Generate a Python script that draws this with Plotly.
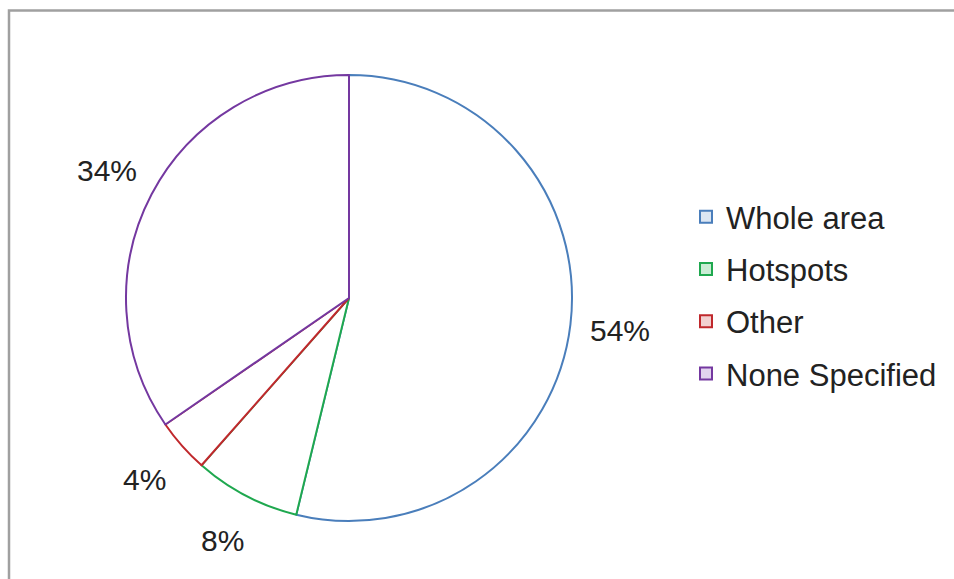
import math
import plotly.graph_objects as go

categories = ["Whole area", "Hotspots", "Other", "None Specified"]
values = [53.8, 7.7, 3.9, 34.6]
pct_labels = ["54%", "8%", "4%", "34%"]
colors = ["#4a7ebb", "#1fa84f", "#c0282c", "#7438a0"]
fills = ["#dce6f2", "#c9ecd4", "#f2d0d0", "#e2d3ee"]

W, H = 954, 579
cx, cy, R = 349, 298, 223  # pixel center and radius

fig = go.Figure()
fig.add_trace(go.Pie(
    labels=categories, values=values, sort=False, direction="clockwise", rotation=0,
    marker=dict(colors=["white"] * 4, line=dict(color=colors, width=2)),
    textinfo="none", showlegend=False, hoverinfo="label+percent",
    domain=dict(x=[(cx - R) / W, (cx + R) / W], y=[(H - cy - R) / H, (H - cy + R) / H]),
))

# legend entries
for c, col, fc in zip(categories, colors, fills):
    fig.add_trace(go.Scatter(
        x=[None], y=[None], mode="markers", name=c, legendgroup=c,
        marker=dict(symbol="square", size=12, color=fc, line=dict(color=col, width=2)),
    ))

# percent labels
total = sum(values)
cum = 0
ann = []
for v, t in zip(values, pct_labels):
    mid = (cum + v / 2) / total * 2 * math.pi
    cum += v
    r = 1.225 * R
    px = cx + r * math.sin(mid)
    py = cy - r * math.cos(mid)
    ann.append(dict(x=px / W, y=1 - py / H, xref="paper", yref="paper",
                    text=t, showarrow=False,
                    xanchor="center", yanchor="middle",
                    font=dict(size=30, color="#222222", family="Liberation Sans, Arial")))

fig.update_layout(
    width=W, height=H, margin=dict(l=0, r=0, t=0, b=0),
    paper_bgcolor="white", plot_bgcolor="white",
    xaxis=dict(visible=False), yaxis=dict(visible=False),
    font=dict(family="Liberation Sans, Arial", size=31, color="#222222"),
    legend=dict(x=686 / W, y=1 - 190 / H, xanchor="left", yanchor="top",
                tracegroupgap=9, bgcolor="rgba(0,0,0,0)",
                font=dict(size=31, color="#222222")),
    annotations=ann,
    shapes=[dict(type="rect", xref="paper", yref="paper",
                 x0=9 / W, x1=1.05, y0=-0.1, y1=1 - 10.5 / H,
                 line=dict(color="#a0a0a0", width=2.5), layer="below")],
)

fig.write_html("out.html")
